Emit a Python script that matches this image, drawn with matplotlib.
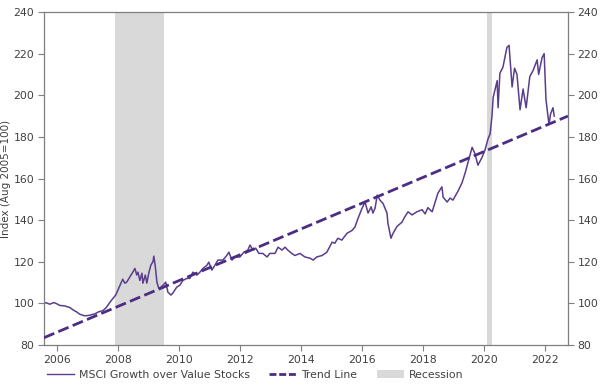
import matplotlib
matplotlib.use("Agg")
import matplotlib.pyplot as plt
from matplotlib.patches import Patch
from matplotlib.lines import Line2D

# decimal year / index value
years = [2005.55, 2005.65, 2005.77, 2005.9, 2006.0, 2006.1, 2006.25, 2006.43, 2006.52,
         2006.66, 2006.75, 2006.92, 2007.08, 2007.25, 2007.38, 2007.51, 2007.62, 2007.74,
         2007.84, 2007.93, 2008.0, 2008.07, 2008.16, 2008.23, 2008.29, 2008.39, 2008.49,
         2008.56, 2008.62, 2008.66, 2008.72, 2008.79, 2008.82, 2008.9, 2008.95, 2009.02,
         2009.08, 2009.15, 2009.18, 2009.23, 2009.28, 2009.34, 2009.41, 2009.48, 2009.57,
         2009.64, 2009.74, 2009.8, 2009.93, 2010.03, 2010.13, 2010.26, 2010.36, 2010.46,
         2010.59, 2010.69, 2010.79, 2010.92, 2010.98, 2011.08, 2011.18, 2011.28, 2011.44,
         2011.57, 2011.64, 2011.74, 2011.84, 2012.0, 2012.13, 2012.26, 2012.33, 2012.43,
         2012.52, 2012.62, 2012.75, 2012.89, 2012.98, 2013.15, 2013.25, 2013.38, 2013.48,
         2013.57, 2013.7, 2013.8, 2013.97, 2014.13, 2014.3, 2014.4, 2014.52, 2014.69,
         2014.85, 2015.02, 2015.11, 2015.21, 2015.34, 2015.51, 2015.67, 2015.77, 2015.87,
         2016.0, 2016.1, 2016.2, 2016.3, 2016.36, 2016.43, 2016.5, 2016.59, 2016.69,
         2016.82, 2016.85, 2016.95, 2017.02, 2017.15, 2017.31, 2017.4, 2017.51, 2017.64,
         2017.8, 2017.97, 2018.07, 2018.16, 2018.3, 2018.4, 2018.49, 2018.62, 2018.66,
         2018.79, 2018.89, 2018.98, 2019.15, 2019.28, 2019.38, 2019.48, 2019.61, 2019.7,
         2019.8, 2019.93, 2020.03, 2020.13, 2020.2, 2020.26, 2020.3, 2020.43, 2020.46,
         2020.52, 2020.62, 2020.75, 2020.82, 2020.92, 2021.0, 2021.08, 2021.18, 2021.28,
         2021.38, 2021.5, 2021.61, 2021.74, 2021.79, 2021.9, 2021.97, 2022.03, 2022.07,
         2022.13, 2022.18, 2022.26, 2022.3]
index = [100.0, 100.3, 99.6, 100.4, 99.8, 99.0, 98.8, 98.0, 97.0,
         95.8, 94.8, 94.0, 94.3, 95.0, 96.0, 96.5, 98.0, 100.5,
         102.4, 104.0, 106.3, 108.7, 111.6, 109.7, 110.2, 112.6, 115.0,
         116.8, 113.6, 115.0, 111.0, 114.5, 109.7, 113.6, 109.7, 115.0,
         118.3, 120.0, 122.7, 117.4, 110.2, 107.3, 107.8, 108.7, 110.2,
         105.4, 104.0, 104.9, 107.8, 108.7, 111.0, 112.0, 112.0, 115.0,
         113.6, 115.0, 116.8, 118.3, 119.8, 116.0, 118.3, 120.8, 120.8,
         123.0, 124.6, 120.8, 122.3, 122.3, 124.6, 125.6, 128.0, 125.6,
         126.5, 124.0, 124.0, 122.3, 124.0, 124.0, 127.0, 125.6, 127.0,
         125.6, 124.0, 123.0, 124.0, 122.3, 121.7, 120.8, 122.3, 123.0,
         124.6, 129.4, 128.9, 131.3, 130.4, 133.7, 135.0, 136.7, 140.8,
         145.6, 148.7, 143.4, 146.4, 143.4, 145.8, 152.0, 149.6, 148.0,
         143.4, 138.6, 131.3, 133.7, 137.0, 139.0, 141.5, 144.0, 142.5,
         144.0, 145.0, 143.0, 146.0, 144.0, 148.7, 153.0, 156.0, 151.0,
         148.7, 150.6, 149.6, 154.0, 158.0, 162.6, 168.0, 175.0, 172.0,
         166.4, 170.0, 173.6, 179.0, 181.5, 190.0, 199.0, 207.0, 194.0,
         210.6, 213.5, 223.0, 224.0, 204.0, 213.0, 210.0, 193.0, 203.0,
         194.0, 209.0, 212.0, 217.0, 210.0, 218.0, 220.0, 198.0, 193.0,
         186.0, 191.0, 194.0, 190.0]

trend_years = [2005.58, 2022.75]
trend_values = [83.5, 190.0]

recessions = [(2007.92, 2009.5), (2020.1, 2020.25)]

year_ticks = list(range(2006, 2023, 2))
value_ticks = list(range(80, 241, 20))

line_color = "#5a3d8c"
trend_color = "#4b2e83"
shade_color = "#d9d9d9"
text_color = "#404040"
spine_color = "#7f7f7f"

fig = plt.figure(figsize=(6.01, 3.85), dpi=100)
ax = fig.add_axes([0.0732, 0.1039, 0.8718, 0.8649])

for start, end in recessions:
    ax.axvspan(start, end, color=shade_color, lw=0, zorder=0)

ax.plot(years, index, color=line_color, lw=1.1, zorder=2)
ax.plot(trend_years, trend_values, color=trend_color, lw=2.0,
        linestyle=(0, (4, 1.6)), zorder=3)

ax.set_xlim(2005.58, 2022.75)
ax.set_ylim(80, 240)
ax.set_xticks(year_ticks)
ax.set_yticks(value_ticks)
ax.tick_params(axis="both", colors=spine_color, labelcolor=text_color,
               labelsize=7.8, length=4, direction="out", pad=3)
ax.tick_params(axis="y", right=True, labelright=True)
for s in ax.spines.values():
    s.set_color(spine_color)
    s.set_linewidth(0.9)

ax.set_ylabel("Index (Aug 2005=100)", color=text_color, fontsize=7.5, labelpad=2)

handles = [
    Line2D([0], [0], color=line_color, lw=1.0),
    Line2D([0], [0], color=trend_color, lw=2.0, linestyle=(0, (2.5, 1))),
    Patch(facecolor=shade_color, edgecolor="none"),
]
labels = ["MSCI Growth over Value Stocks", "Trend Line", "Recession"]
fig.legend(handles, labels, loc="center left", bbox_to_anchor=(0.078, 0.026),
           ncol=3, frameon=False, fontsize=7.8, handlelength=2.5,
           columnspacing=1.8, handletextpad=0.45, labelcolor=text_color,
           borderpad=0, borderaxespad=0)

fig.savefig("out.png", dpi=100)
